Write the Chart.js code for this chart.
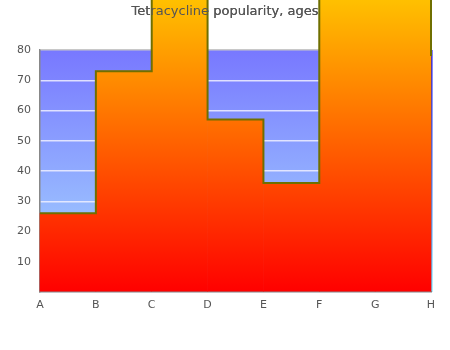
<!DOCTYPE html>
<html>
<head>
<meta charset="utf-8">
<script src="https://cdn.jsdelivr.net/npm/chart.js@4/dist/chart.umd.min.js"></script>
<style>
  html, body { margin: 0; padding: 0; background: #fff; }
  #wrap { width: 450px; height: 350px; }
</style>
</head>
<body>
<div id="wrap"><canvas id="myChart"></canvas></div>
<script>
// data
const labels = ['A', 'B', 'C', 'D', 'E', 'F', 'G', 'H'];
const stepValues = [26, 73, 110, 57, 36, 110, 110];   // one per span A-B ... G-H
const endValue = 78;                                  // where the outline stops at H
const yTicks = [10, 20, 30, 40, 50, 60, 70, 80];

// bars sit between the letters, outline points sit on them
const barData = stepValues.map((v, i) => ({ x: i + 0.5, y: v }));
const lineData = stepValues.map((v, i) => ({ x: i, y: v }));
lineData.push({ x: labels.length - 1, y: endValue });

function fillGradient(context)
{
    const chart = context.chart;
    const area = chart.chartArea;
    if (!area) return '#ff4000';
    const g = chart.ctx.createLinearGradient(0, area.bottom, 0, 0);
    g.addColorStop(0, '#ff0000');
    g.addColorStop(1, '#ffc000');
    return g;
}

// plot background and right edge
const plotBackground = {
    id: 'plotBackground',
    beforeDraw(chart)
    {
        const {ctx, chartArea: a} = chart;
        ctx.save();
        const g = ctx.createLinearGradient(0, a.top, 0, a.bottom);
        g.addColorStop(0, '#7878ff');
        g.addColorStop(1, '#a8dcff');
        ctx.fillStyle = g;
        ctx.fillRect(a.left, a.top, a.right - a.left, a.bottom - a.top);
        const e = ctx.createLinearGradient(0, a.top, 0, a.bottom);
        e.addColorStop(0, '#0000ff');
        e.addColorStop(1, '#60e0ff');
        ctx.fillStyle = e;
        ctx.fillRect(a.right, a.top, 1.5, a.bottom - a.top);
        ctx.restore();
    },
    // the title sits on top of the overflowing bars
    afterDatasetsDraw(chart)
    {
        if (chart.titleBlock) chart.titleBlock.draw();
    }
};

let myChart = document.getElementById('myChart').getContext('2d');

let chart_1 = new Chart(myChart,
{
    type: 'bar',
    data:
    {
        datasets:
        [
            {
                type: 'line',
                label: 'outline',
                data: lineData,
                stepped: true,
                borderColor: '#6f6f00',
                borderWidth: 2,
                pointRadius: 0,
                fill: false,
                clip: false,
                order: 0
            },
            {
                label: 'popularity',
                data: barData,
                backgroundColor: fillGradient,
                borderWidth: 0,
                barPercentage: 1,
                categoryPercentage: 1,
                clip: false,
                order: 1
            }
        ]
    },
    options:
    {
        responsive: true,
        maintainAspectRatio: false,
        animation: false,
        layout: { padding: { left: 0, right: 0, top: 0, bottom: 33 } },
        plugins:
        {
            legend: { display: false },
            tooltip: { enabled: false },
            title:
            {
                display: true,
                text: 'Tetracycline popularity, ages',
                color: '#555',
                font: { family: 'DejaVu Sans', size: 13, weight: 'normal' },
                padding: { top: 4, bottom: 30.4 }
            }
        },
        scales:
        {
            x:
            {
                type: 'linear',
                min: 0,
                max: labels.length - 1,
                offset: false,
                afterFit: s => { s.height = 25; },
                afterBuildTicks: s => { s.ticks = labels.map((l, i) => ({ value: i })); },
                ticks:
                {
                    callback: v => labels[v],
                    color: '#555',
                    font: { family: 'DejaVu Sans', size: 11 },
                    padding: 7,
                    maxRotation: 0,
                    autoSkip: false
                },
                grid: { display: false, drawTicks: false },
                border: { color: '#888', width: 1.5 }
            },
            y:
            {
                min: 0,
                max: 80,
                afterFit: s => { s.width = 40; },
                afterBuildTicks: s => { s.ticks = [0].concat(yTicks).map(v => ({ value: v })); },
                ticks:
                {
                    callback: v => (v === 0 ? '' : v),
                    color: '#555',
                    font: { family: 'DejaVu Sans', size: 11 },
                    padding: 9
                },
                grid:
                {
                    color: c => (c.tick && c.tick.value === 80 ? '#c8c8c8' : 'rgba(240,240,255,0.85)'),
                    lineWidth: 1.5,
                    drawTicks: false
                },
                border: { color: '#888', width: 1.5 }
            },
            // empty right axis, only keeps a margin right of the plot
            yRight:
            {
                position: 'right',
                min: 0,
                max: 80,
                afterFit: s => { s.width = 19; },
                ticks: { display: false },
                grid: { display: false, drawTicks: false },
                border: { display: false }
            }
        }
    },
    plugins: [plotBackground]
});
</script>
</body>
</html>
